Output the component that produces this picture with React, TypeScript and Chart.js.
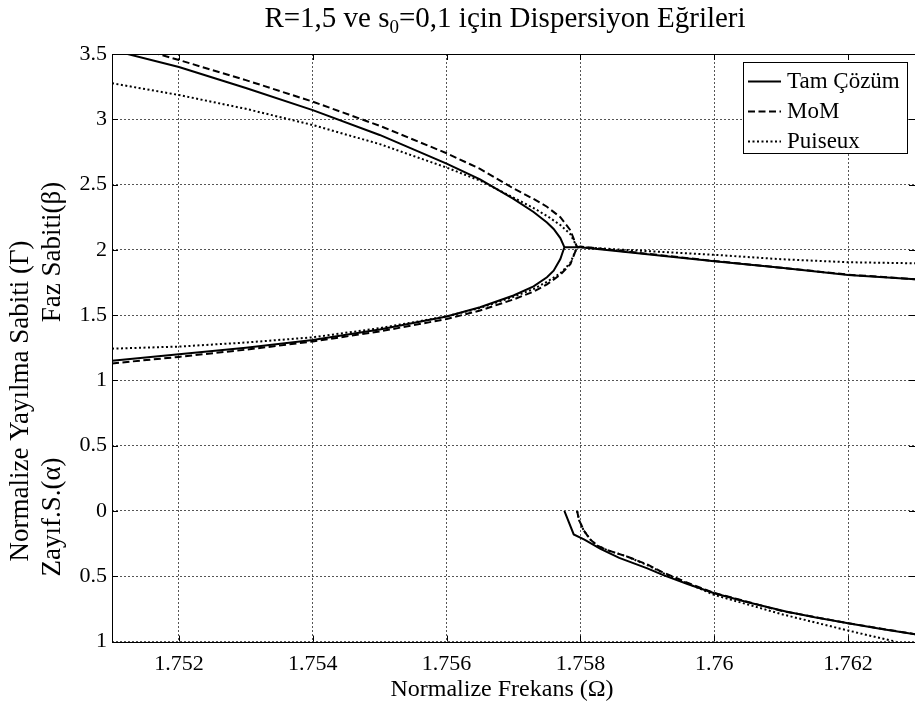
import React, { useEffect, useRef } from 'react';
import { Chart, registerables } from 'chart.js';

Chart.register(...registerables);

// ---------- data ----------
const X_MIN = 1.751;
const X_MAX = 1.763;
const Y_MIN = -1;
const Y_MAX = 3.5;

const X_TICKS = [1.752, 1.754, 1.756, 1.758, 1.76, 1.762];
const X_TICK_LABELS = ['1.752', '1.754', '1.756', '1.758', '1.76', '1.762'];
const Y_TICKS = [-1, -0.5, 0, 0.5, 1, 1.5, 2, 2.5, 3, 3.5];
const Y_TICK_LABELS = ['1', '0.5', '0', '0.5', '1', '1.5', '2', '2.5', '3', '3.5'];

const TITLE_A = 'R=1,5 ve s';
const TITLE_SUB = '0';
const TITLE_B = '=0,1 için Dispersiyon Eğrileri';
const X_TITLE = 'Normalize Frekans (Ω)';
const Y_TITLE_MAIN = 'Normalize Yayılma Sabiti (Γ)';
const Y_TITLE_BETA = 'Faz Sabiti(β)';
const Y_TITLE_ALPHA = 'Zayıf.S.(α)';

const SERIES_NAMES = ['Tam Çözüm', 'MoM', 'Puiseux'];

// Tam Çözüm (exact solution)
const TAM_UPPER_X = [1.751, 1.752, 1.753, 1.754, 1.755, 1.756, 1.7565, 1.757, 1.7573, 1.7575, 1.7576, 1.7577, 1.75776];
const TAM_UPPER_Y = [3.53, 3.40, 3.24, 3.07, 2.88, 2.66, 2.54, 2.39, 2.29, 2.21, 2.16, 2.09, 2.02];
const TAM_LOWER_X = [1.751, 1.752, 1.753, 1.754, 1.755, 1.756, 1.7565, 1.757, 1.7573, 1.7575, 1.7576, 1.7577, 1.75776];
const TAM_LOWER_Y = [1.15, 1.20, 1.25, 1.31, 1.39, 1.49, 1.56, 1.65, 1.72, 1.79, 1.84, 1.93, 2.02];
const TAM_RIGHT_X = [1.75776, 1.758, 1.759, 1.76, 1.761, 1.762, 1.763];
const TAM_RIGHT_Y = [2.02, 2.02, 1.966, 1.912, 1.862, 1.808, 1.775];
const TAM_ALPHA_X = [1.75776, 1.7579, 1.75806, 1.7583, 1.75858, 1.759, 1.75923, 1.7596, 1.76, 1.7605, 1.76107, 1.7615, 1.762, 1.7625, 1.763];
const TAM_ALPHA_Y = [0, -0.18, -0.22, -0.29, -0.36, -0.44, -0.49, -0.56, -0.63, -0.70, -0.77, -0.815, -0.86, -0.905, -0.944];

// MoM
const MOM_UPPER_X = [1.751, 1.752, 1.753, 1.754, 1.755, 1.756, 1.7565, 1.757, 1.7573, 1.7575, 1.7577, 1.75785, 1.75795];
const MOM_UPPER_Y = [3.60, 3.454, 3.30, 3.135, 2.95, 2.74, 2.62, 2.47, 2.39, 2.33, 2.25, 2.15, 2.02];
const MOM_LOWER_X = [1.751, 1.752, 1.753, 1.754, 1.755, 1.756, 1.7565, 1.757, 1.7573, 1.7575, 1.7577, 1.75785, 1.75795];
const MOM_LOWER_Y = [1.13, 1.18, 1.235, 1.298, 1.375, 1.47, 1.535, 1.62, 1.68, 1.735, 1.81, 1.89, 2.02];
const MOM_RIGHT_X = [1.75795, 1.758, 1.759, 1.76, 1.761, 1.762, 1.763];
const MOM_RIGHT_Y = [2.02, 2.025, 1.97, 1.915, 1.863, 1.81, 1.775];
const MOM_ALPHA_X = [1.75795, 1.75798, 1.75805, 1.75815, 1.75825, 1.7584, 1.7587, 1.759, 1.75923, 1.7596, 1.76, 1.761, 1.762, 1.763];
const MOM_ALPHA_Y = [0, -0.07, -0.15, -0.22, -0.265, -0.30, -0.35, -0.41, -0.47, -0.55, -0.628, -0.765, -0.86, -0.944];

// Puiseux
const PUI_UPPER_X = [1.751, 1.752, 1.753, 1.754, 1.755, 1.756, 1.7565, 1.757, 1.7573, 1.7575, 1.7577, 1.75785, 1.75795];
const PUI_UPPER_Y = [3.276, 3.186, 3.08, 2.956, 2.81, 2.63, 2.53, 2.40, 2.32, 2.26, 2.19, 2.12, 2.02];
const PUI_LOWER_X = [1.751, 1.752, 1.753, 1.754, 1.755, 1.756, 1.7565, 1.757, 1.7573, 1.7575, 1.7577, 1.75785, 1.75795];
const PUI_LOWER_Y = [1.243, 1.259, 1.29, 1.33, 1.40, 1.49, 1.555, 1.64, 1.70, 1.755, 1.82, 1.90, 2.02];
const PUI_RIGHT_X = [1.75795, 1.758, 1.759, 1.76, 1.761, 1.762, 1.763];
const PUI_RIGHT_Y = [2.02, 2.02, 1.99, 1.962, 1.928, 1.905, 1.897];
const PUI_ALPHA_X = [1.75795, 1.75798, 1.75805, 1.75815, 1.75825, 1.7584, 1.7587, 1.759, 1.75923, 1.7596, 1.76, 1.761, 1.762, 1.7627, 1.763];
const PUI_ALPHA_Y = [0, -0.07, -0.15, -0.22, -0.265, -0.30, -0.35, -0.415, -0.475, -0.555, -0.643, -0.79, -0.916, -1.0, -1.04];

// ---------- helpers ----------
type Pt = { x: number; y: number | null };

function joinBranches(branches: Array<[number[], number[]]>): Pt[] {
  const out: Pt[] = [];
  branches.forEach(([xs, ys], bi) => {
    if (bi > 0) out.push({ x: xs[0], y: null });
    xs.forEach((x, i) => out.push({ x, y: ys[i] }));
  });
  return out;
}

const FONT = '"Liberation Serif", "Times New Roman", Times, serif';

const framePlugin = {
  id: 'matlabFrame',
  afterDraw(chart: any) {
    const { ctx, chartArea } = chart;
    const { left, right, top, bottom } = chartArea;
    const xs = chart.scales.x;
    const ys = chart.scales.y;
    ctx.save();
    // box
    ctx.strokeStyle = '#000';
    ctx.lineWidth = 1;
    ctx.setLineDash([]);
    ctx.strokeRect(Math.round(left) + 0.5, Math.round(top) + 0.5, Math.round(right - left), Math.round(bottom - top));
    // inward ticks
    const tl = 6;
    ctx.beginPath();
    X_TICKS.forEach((v) => {
      const px = Math.round(xs.getPixelForValue(v)) + 0.5;
      ctx.moveTo(px, bottom);
      ctx.lineTo(px, bottom - tl);
      ctx.moveTo(px, top);
      ctx.lineTo(px, top + tl);
    });
    Y_TICKS.forEach((v) => {
      const py = Math.round(ys.getPixelForValue(v)) + 0.5;
      ctx.moveTo(left, py);
      ctx.lineTo(left + tl, py);
      ctx.moveTo(right, py);
      ctx.lineTo(right - tl, py);
    });
    ctx.stroke();

    // legend
    const lx = 743, ly = 62, lw = 164, lh = 91;
    ctx.fillStyle = '#fff';
    ctx.fillRect(lx, ly, lw, lh);
    ctx.strokeStyle = '#000';
    ctx.strokeRect(lx + 0.5, ly + 0.5, lw, lh);
    ctx.font = `23px ${FONT}`;
    ctx.textBaseline = 'middle';
    ctx.textAlign = 'left';
    const rows = [81, 111, 141];
    chart.data.datasets.forEach((ds: any, i: number) => {
      const ry = rows[i];
      ctx.save();
      ctx.strokeStyle = '#000';
      ctx.lineWidth = ds.borderWidth;
      ctx.setLineDash(ds.borderDash || []);
      ctx.beginPath();
      ctx.moveTo(lx + 5, ry + 0.5);
      ctx.lineTo(lx + 38, ry + 0.5);
      ctx.stroke();
      ctx.restore();
      ctx.fillStyle = '#000';
      ctx.fillText(ds.label, lx + 44, ry + 1);
    });

    // titles
    ctx.fillStyle = '#000';
    ctx.textBaseline = 'alphabetic';
    ctx.font = `29px ${FONT}`;
    const wA = ctx.measureText(TITLE_A).width;
    const wB = ctx.measureText(TITLE_B).width;
    ctx.font = `19px ${FONT}`;
    const wS = ctx.measureText(TITLE_SUB).width;
    const cx = 505;
    const x0 = cx - (wA + wS + wB) / 2;
    const base = 27;
    ctx.font = `29px ${FONT}`;
    ctx.fillText(TITLE_A, x0, base);
    ctx.font = `19px ${FONT}`;
    ctx.fillText(TITLE_SUB, x0 + wA, base + 6);
    ctx.font = `29px ${FONT}`;
    ctx.fillText(TITLE_B, x0 + wA + wS, base);

    ctx.textAlign = 'center';
    ctx.textBaseline = 'middle';
    ctx.font = `24px ${FONT}`;
    ctx.fillText(X_TITLE, 502, 690);

    const rot = (text: string, x: number, y: number) => {
      ctx.save();
      ctx.translate(x, y);
      ctx.rotate(-Math.PI / 2);
      ctx.fillText(text, 0, 0);
      ctx.restore();
    };
    ctx.font = `27px ${FONT}`;
    rot(Y_TITLE_MAIN, 21, 401);
    rot(Y_TITLE_BETA, 53, 252);
    rot(Y_TITLE_ALPHA, 53, 517);
    ctx.restore();
  },
};

export default function App() {
  const canvasRef = useRef<HTMLCanvasElement | null>(null);

  useEffect(() => {
    const canvas = canvasRef.current;
    if (!canvas) return;

    const common = { pointRadius: 0, borderColor: '#000', backgroundColor: '#000', fill: false, spanGaps: false, clip: 0, tension: 0 };

    const chart = new Chart(canvas, {
      type: 'line',
      data: {
        datasets: [
          {
            ...common,
            label: SERIES_NAMES[0],
            borderWidth: 2,
            borderDash: [],
            data: joinBranches([
              [TAM_UPPER_X, TAM_UPPER_Y],
              [TAM_LOWER_X, TAM_LOWER_Y],
              [TAM_RIGHT_X, TAM_RIGHT_Y],
              [TAM_ALPHA_X, TAM_ALPHA_Y],
            ]),
          },
          {
            ...common,
            label: SERIES_NAMES[1],
            borderWidth: 2,
            borderDash: [7, 3.5],
            data: joinBranches([
              [MOM_UPPER_X, MOM_UPPER_Y],
              [MOM_LOWER_X, MOM_LOWER_Y],
              [MOM_RIGHT_X, MOM_RIGHT_Y],
              [MOM_ALPHA_X, MOM_ALPHA_Y],
            ]),
          },
          {
            ...common,
            label: SERIES_NAMES[2],
            borderWidth: 2,
            borderDash: [2, 2.5],
            data: joinBranches([
              [PUI_UPPER_X, PUI_UPPER_Y],
              [PUI_LOWER_X, PUI_LOWER_Y],
              [PUI_RIGHT_X, PUI_RIGHT_Y],
              [PUI_ALPHA_X, PUI_ALPHA_Y],
            ]),
          },
        ] as any,
      },
      options: {
        animation: false,
        responsive: false,
        maintainAspectRatio: false,
        layout: { padding: { top: 54, left: 0, right: 0, bottom: 0 } },
        plugins: {
          legend: { display: false },
          title: { display: false },
          tooltip: { enabled: false },
        },
        scales: {
          x: {
            type: 'linear',
            min: X_MIN,
            max: X_MAX,
            afterFit: (s: any) => {
              s.height = 65.5;
            },
            afterBuildTicks: (s: any) => {
              s.ticks = X_TICKS.map((v) => ({ value: v }));
            },
            ticks: {
              autoSkip: false,
              maxRotation: 0,
              padding: 10,
              color: '#000',
              font: { family: FONT, size: 22 },
              callback: (v: any) => {
                const i = X_TICKS.findIndex((t) => Math.abs(t - v) < 1e-9);
                return i >= 0 ? X_TICK_LABELS[i] : '';
              },
            },
            grid: { color: '#555', lineWidth: 1, drawTicks: false },
            border: { display: false, dash: [2, 2] },
          },
          y: {
            type: 'linear',
            min: Y_MIN,
            max: Y_MAX,
            afterFit: (s: any) => {
              s.width = 112;
            },
            afterBuildTicks: (s: any) => {
              s.ticks = Y_TICKS.map((v) => ({ value: v }));
            },
            ticks: {
              autoSkip: false,
              padding: 5,
              color: '#000',
              font: { family: FONT, size: 22 },
              callback: (v: any) => {
                const i = Y_TICKS.findIndex((t) => Math.abs(t - v) < 1e-9);
                return i >= 0 ? Y_TICK_LABELS[i] : '';
              },
            },
            grid: { color: '#555', lineWidth: 1, drawTicks: false },
            border: { display: false, dash: [2, 2] },
          },
        },
      } as any,
      plugins: [framePlugin],
    });

    return () => chart.destroy();
  }, []);

  return (
    <div style={{ position: 'absolute', left: 0, top: 0, width: 915, height: 707, background: '#fff' }}>
      <canvas ref={canvasRef} width={915} height={707} style={{ display: 'block', width: 915, height: 707 }} />
    </div>
  );
}
